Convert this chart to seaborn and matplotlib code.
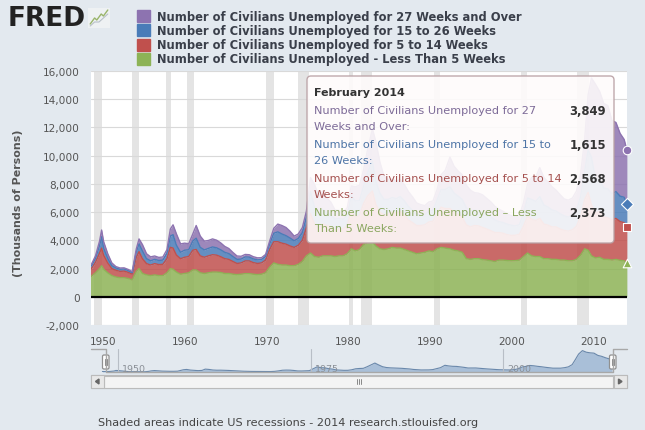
import numpy as np
import pandas as pd
import seaborn as sns
import matplotlib.pyplot as plt
from matplotlib.patches import Rectangle, FancyBboxPatch, Polygon
from matplotlib.lines import Line2D

# semi-annual readings (thousands of persons), peaks added where the picture shows them
dates = [
    "1948-01", "1948-07", "1949-01", "1949-07", "1949-10",
    "1950-01", "1950-07", "1951-01", "1951-07", "1952-01", "1952-07", "1953-01", "1953-07",
    "1954-01", "1954-05", "1954-10", "1955-04", "1955-10", "1956-04", "1956-10", "1957-04", "1957-10",
    "1958-03", "1958-07", "1958-12", "1959-06", "1959-12", "1960-06", "1960-12", "1961-05", "1961-11",
    "1962-05", "1962-11", "1963-05", "1963-11", "1964-05", "1964-11", "1965-05", "1965-11",
    "1966-05", "1966-11", "1967-05", "1967-11", "1968-05", "1968-11", "1969-05", "1969-11",
    "1970-05", "1970-11", "1971-05", "1971-11", "1972-05", "1972-11", "1973-05", "1973-11",
    "1974-05", "1974-11", "1975-05", "1975-11", "1976-05", "1976-11", "1977-05", "1977-11",
    "1978-05", "1978-11", "1979-05", "1979-11", "1980-05", "1980-11", "1981-05", "1981-11",
    "1982-05", "1982-12", "1983-05", "1983-11", "1984-05", "1984-11", "1985-05", "1985-11",
    "1986-05", "1986-11", "1987-05", "1987-11", "1988-05", "1988-11", "1989-05", "1989-11",
    "1990-05", "1990-11", "1991-05", "1991-11", "1992-06", "1992-12", "1993-06", "1993-12",
    "1994-06", "1994-12", "1995-06", "1995-12", "1996-06", "1996-12", "1997-06", "1997-12",
    "1998-06", "1998-12", "1999-06", "1999-12", "2000-06", "2000-12", "2001-06", "2001-12",
    "2002-06", "2002-12", "2003-06", "2003-12", "2004-06", "2004-12", "2005-06", "2005-12",
    "2006-06", "2006-12", "2007-06", "2007-12", "2008-06", "2008-12", "2009-05", "2009-10",
    "2010-04", "2010-10", "2011-04", "2011-10", "2012-04", "2012-10", "2013-04", "2013-10", "2014-02",
]

less_5 = [
    1500, 1450, 1700, 2000, 2200,
    1950, 1700, 1500, 1400, 1350, 1350, 1300, 1200,
    1800, 2000, 1650, 1550, 1500, 1550, 1500, 1500, 1700,
    2000, 1950, 1750, 1600, 1650, 1700, 1900, 1900, 1700,
    1650, 1700, 1750, 1750, 1720, 1650, 1650, 1600,
    1570, 1600, 1640, 1640, 1600, 1570, 1600, 1700,
    2100, 2400, 2300, 2250, 2250, 2200, 2200, 2300,
    2500, 2900, 3100, 2850, 2800, 2900, 2900, 2900,
    2850, 2900, 2900, 3050, 3400, 3250, 3350, 3700,
    3850, 3900, 3600, 3400, 3350, 3400, 3500, 3450,
    3450, 3350, 3250, 3150, 3050, 3100, 3150, 3250,
    3200, 3400, 3500, 3450, 3400, 3300, 3250, 3150,
    2700, 2650, 2700, 2700, 2630, 2600, 2550, 2500,
    2600, 2600, 2570, 2550, 2560, 2600, 2850, 3100,
    2900, 2850, 2850, 2700, 2700, 2650, 2650, 2600,
    2600, 2550, 2550, 2650, 2950, 3400, 3300, 2900,
    2750, 2800, 2650, 2650, 2600, 2650, 2580, 2550, 2373,
]

weeks_5_14 = [
    550, 550, 750, 1100, 1250,
    1000, 700, 500, 480, 450, 470, 430, 400,
    1000, 1200, 1050, 800, 750, 800, 780, 800, 1000,
    1500, 1500, 1200, 1100, 1150, 1150, 1400, 1450, 1200,
    1150, 1200, 1230, 1200, 1120, 1050, 1000, 900,
    790, 800, 900, 900, 820, 790, 800, 900,
    1250, 1500, 1600, 1550, 1480, 1400, 1300, 1350,
    1500, 2000, 2800, 2300, 2100, 2250, 2150, 2050,
    1900, 1900, 1900, 2000, 2700, 2400, 2400, 2900,
    3300, 3600, 2950, 2600, 2450, 2450, 2500, 2500,
    2600, 2450, 2200, 2100, 2000, 1950, 1950, 2050,
    2150, 2500, 2850, 2800, 2850, 2700, 2580, 2500,
    2400, 2300, 2350, 2320, 2280, 2200, 2130, 2050,
    1950, 1900, 1830, 1800, 1800, 1830, 2150, 2600,
    2600, 2550, 2700, 2450, 2380, 2300, 2300, 2200,
    2100, 2100, 2200, 2350, 2750, 3500, 4100, 3600,
    3200, 3250, 3000, 2950, 2850, 2900, 2750, 2700, 2568,
]

weeks_15_26 = [
    200, 180, 270, 550, 800,
    500, 320, 200, 160, 150, 150, 130, 110,
    400, 550, 550, 350, 300, 300, 290, 300, 380,
    800, 950, 700, 450, 500, 480, 650, 800, 600,
    520, 530, 550, 520, 490, 450, 410, 350,
    290, 270, 280, 270, 260, 250, 240, 260,
    400, 600, 700, 650, 600, 560, 470, 480,
    540, 750, 1550, 1200, 900, 1050, 900, 850,
    750, 740, 690, 720, 1050, 1150, 1050, 1250,
    1650, 2100, 1650, 1350, 1100, 1050, 1030, 1000,
    1050, 1000, 950, 880, 800, 760, 720, 760,
    780, 950, 1250, 1350, 1550, 1350, 1300, 1250,
    1220, 1150, 1080, 1070, 1050, 1020, 990, 900,
    770, 760, 750, 720, 660, 680, 900, 1300,
    1400, 1350, 1550, 1350, 1280, 1200, 1120, 1080,
    1030, 1000, 1050, 1150, 1400, 2000, 3000, 3400,
    2400, 2300, 2050, 2050, 1850, 1900, 1800, 1800, 1615,
]

weeks_27_over = [
    150, 120, 180, 300, 480,
    450, 330, 200, 100, 90, 80, 80, 70,
    200, 350, 450, 350, 280, 240, 220, 220, 260,
    500, 700, 800, 600, 500, 430, 500, 900, 800,
    620, 560, 570, 540, 490, 420, 360, 290,
    240, 200, 180, 170, 160, 150, 130, 140,
    200, 350, 550, 600, 580, 480, 330, 320,
    360, 420, 1000, 1600, 1350, 1300, 1050, 900,
    650, 580, 520, 530, 700, 1000, 1100, 1150,
    1650, 2300, 2800, 2200, 1650, 1400, 1300, 1250,
    1200, 1150, 1050, 950, 800, 720, 640, 660,
    660, 750, 1050, 1350, 2100, 1900, 1780, 1750,
    1600, 1450, 1250, 1250, 1260, 1150, 1060, 960,
    880, 800, 720, 680, 650, 640, 750, 1000,
    1550, 1750, 2050, 1950, 1780, 1650, 1480, 1350,
    1200, 1200, 1200, 1350, 1600, 2300, 3900, 5600,
    6700, 6200, 6000, 5900, 5200, 4900, 4450, 4100, 3849,
]

recessions = [
    ("1948-11", "1949-10"), ("1953-07", "1954-05"), ("1957-08", "1958-04"),
    ("1960-04", "1961-02"), ("1969-12", "1970-11"), ("1973-11", "1975-03"),
    ("1980-01", "1980-07"), ("1981-07", "1982-11"), ("1990-07", "1991-03"),
    ("2001-03", "2001-11"), ("2007-12", "2009-06"),
]

legend_names = [
    "Number of Civilians Unemployed for 27 Weeks and Over",
    "Number of Civilians Unemployed for 15 to 26 Weeks",
    "Number of Civilians Unemployed for 5 to 14 Weeks",
    "Number of Civilians Unemployed - Less Than 5 Weeks",
]
tip_names = [
    ("Number of Civilians Unemployed for 27", "Weeks and Over:"),
    ("Number of Civilians Unemployed for 15 to", "26 Weeks:"),
    ("Number of Civilians Unemployed for 5 to 14", "Weeks:"),
    ("Number of Civilians Unemployed \u2013 Less", "Than 5 Weeks:"),
]
x_ticks = [1950, 1960, 1970, 1980, 1990, 2000, 2010]
y_ticks = list(range(-2000, 16001, 2000))
nav_ticks = [1950, 1975, 2000]

# colours bottom -> top: green, red, blue, purple
colors = ["#8db356", "#c0504d", "#4a7cb8", "#8d73b0"]
tip_colors = ["#8aa65f", "#a5504e", "#4d74a6", "#7d6b98"]
BG = "#e3e9ef"


def dec(s):
    y, m = s.split("-")
    return int(y) + (int(m) - 1) / 12


sns.set_style("white")
plt.rcParams["font.family"] = ["DejaVu Sans"]

cols = ["less_5", "w5_14", "w15_26", "w27"]
df = pd.DataFrame({"date": [dec(d) for d in dates], "less_5": less_5, "w5_14": weeks_5_14,
                   "w15_26": weeks_15_26, "w27": weeks_27_over})
tops = df[cols].cumsum(axis=1)

W, H = 645, 431


def box(x0, y0, x1, y1):
    return [x0 / W, 1 - y1 / H, (x1 - x0) / W, (y1 - y0) / H]


fig = plt.figure(figsize=(W / 100, H / 100), dpi=100, facecolor=BG)

# ---- main chart
ax = fig.add_axes(box(91, 72, 627, 326))
ax.set_facecolor("white")
for a, b in recessions:
    ax.axvspan(dec(a), dec(b), color="#e4e4e4", lw=0, zorder=0)
for i, c in enumerate(cols):
    lower = tops[cols[i - 1]] if i else 0
    ax.fill_between(df["date"], lower, tops[c], color=colors[i], alpha=0.85, lw=0, zorder=2)
    sns.lineplot(x=df["date"], y=tops[c], ax=ax, color=colors[i], lw=1.0, zorder=3, legend=False)
ax.axhline(0, color="black", lw=1.6, zorder=4)

last = df.iloc[-1]
lt = tops.iloc[-1]
for i, (c, m) in enumerate(zip(cols, ["^", "s", "D", "o"])):
    ax.scatter([last["date"]], [lt[c]], marker=m, s=38, color=colors[i], edgecolor="white",
               lw=0.8, zorder=6, clip_on=False)

ax.set_xlim(1948.45, 2014.1)
ax.set_ylim(-2000, 16000)
ax.set_xticks(x_ticks)
ax.set_xticklabels([str(t) for t in x_ticks])
ax.set_yticks(y_ticks)
ax.set_yticklabels([f"{t:,}" for t in y_ticks])
ax.grid(axis="y", color="#d9d9d9", lw=0.8, zorder=1)
ax.set_axisbelow(True)
ax.tick_params(length=0, labelsize=7.6, labelcolor="#555555")
ax.tick_params(axis="y", pad=8)
ax.tick_params(axis="x", pad=8)
ax.set_xlabel("")
ax.set_ylabel("")
for s in ax.spines.values():
    s.set_visible(False)

fig.text(18 / W, 1 - 203 / H, "(Thousands of Persons)", rotation=90, ha="center", va="center",
         fontsize=7.9, fontweight="bold", color="#555555")

# ---- header: logo + legend
fig.text(8 / W, 1 - 19 / H, "FRED", fontsize=19, fontweight="heavy", color="#222222", va="center")
icon = fig.add_axes(box(88, 9, 110, 29))
icon.set_facecolor("#eef1f3")
icon.set_xlim(0, 10)
icon.set_ylim(0, 10)
icon.plot([1, 3, 4, 6, 7, 9], [2, 5, 4, 7, 6, 9], color="#9ab56b", lw=1.0)
icon.plot([1, 3, 5, 7, 9], [1, 3, 3, 5, 7], color="#b8c0c8", lw=0.8)
icon.set_xticks([])
icon.set_yticks([])
for s in icon.spines.values():
    s.set_visible(False)

legend_colors = colors[::-1]
for k, name in enumerate(legend_names):
    yc = 17 + 14.3 * k
    fig.patches.append(Rectangle((137 / W, 1 - (yc + 6) / H), 13 / W, 12 / H,
                                 transform=fig.transFigure, color=legend_colors[k], figure=fig))
    fig.text(157 / W, 1 - yc / H, name, fontsize=8.3, fontweight="bold", color="#3a3f4a",
             va="center", ha="left")

# ---- tooltip
tip = FancyBboxPatch((307, H - 244), 307, 167, boxstyle="round,pad=0,rounding_size=4",
                     transform=None, facecolor="#fefbfb", alpha=0.9, edgecolor="#b9a0a4",
                     lw=1.0, zorder=10)
fig.patches.append(tip)
fig.text(314 / W, 1 - 93 / H, "February 2014", fontsize=8.0, fontweight="bold", color="#333333",
         va="center", zorder=11)
tip_values = [weeks_27_over[-1], weeks_15_26[-1], weeks_5_14[-1], less_5[-1]]
tip_cols = tip_colors[::-1]
for k, ((l1, l2), v) in enumerate(zip(tip_names, tip_values)):
    y1 = 111.5 + 34 * k
    fig.text(314 / W, 1 - y1 / H, l1, fontsize=8.1, color=tip_cols[k], va="center", zorder=11)
    fig.text(314 / W, 1 - (y1 + 15.5) / H, l2, fontsize=8.1, color=tip_cols[k], va="center", zorder=11)
    fig.text(606 / W, 1 - y1 / H, f"{v:,}", fontsize=8.4, fontweight="bold", color="#333333",
             va="center", ha="right", zorder=11)

# ---- navigator
nav = fig.add_axes(box(91, 350, 627, 373))
nav.patch.set_alpha(0)
nav.fill_between(df["date"], 0, df["w27"], color="#a9bfd8", lw=0)
sns.lineplot(x=df["date"], y=df["w27"], ax=nav, color="#6a88ab", lw=0.8, legend=False)
for t in nav_ticks:
    nav.axvline(t, color="#b8bec6", lw=0.8)
    nav.text(t + 0.5, 1250, str(t), fontsize=6.8, color="#8a8f96", va="center", ha="left")
nav.set_xlim(1946.52, 2016.03)
nav.set_ylim(0, 7200)
nav.set_xticks([])
nav.set_yticks([])
nav.set_xlabel("")
nav.set_ylabel("")
for s in nav.spines.values():
    s.set_visible(False)

outline = Line2D([91, 105.5, 105.5, 612.5, 612.5, 627],
                 [H - 350, H - 350, H - 373, H - 373, H - 350, H - 350],
                 transform=None, color="#a8a8a8", lw=1.0)
fig.lines.append(outline)
for hx in (102.5, 609.5):
    fig.patches.append(FancyBboxPatch((hx, H - 370), 6.5, 14, boxstyle="round,pad=0,rounding_size=1.5",
                                      transform=None, facecolor="white", edgecolor="#909090", lw=0.9))
    for dx in (2.4, 4.2):
        fig.lines.append(Line2D([hx + dx, hx + dx], [H - 366, H - 360], transform=None,
                                color="#909090", lw=0.8))

# scrollbar
fig.patches.append(Rectangle((91, H - 389), 536, 13, transform=None, facecolor="#eeeeee",
                             edgecolor="#bbbbbb", lw=0.8))
fig.patches.append(Rectangle((104, H - 388.5), 509, 12, transform=None, facecolor="#f4f4f4",
                             edgecolor="#bbbbbb", lw=0.8))
for bx in (91, 614):
    fig.patches.append(Rectangle((bx, H - 389), 13, 13, transform=None, facecolor="#e8e8e8",
                                 edgecolor="#bbbbbb", lw=0.8))
fig.patches.append(Polygon([[99, H - 380], [99, H - 385], [95.5, H - 382.5]], transform=None,
                           color="#666666"))
fig.patches.append(Polygon([[618.5, H - 380], [618.5, H - 385], [622, H - 382.5]], transform=None,
                           color="#666666"))
for gx in (356.5, 358.5, 360.5):
    fig.lines.append(Line2D([gx, gx], [H - 385, H - 380], transform=None, color="#888888", lw=0.7))

fig.text(98 / W, 1 - 423 / H, "Shaded areas indicate US recessions - 2014 research.stlouisfed.org",
         fontsize=8.1, color="#444444", va="center", ha="left")

fig.savefig("out.png", dpi=100, facecolor=BG)
